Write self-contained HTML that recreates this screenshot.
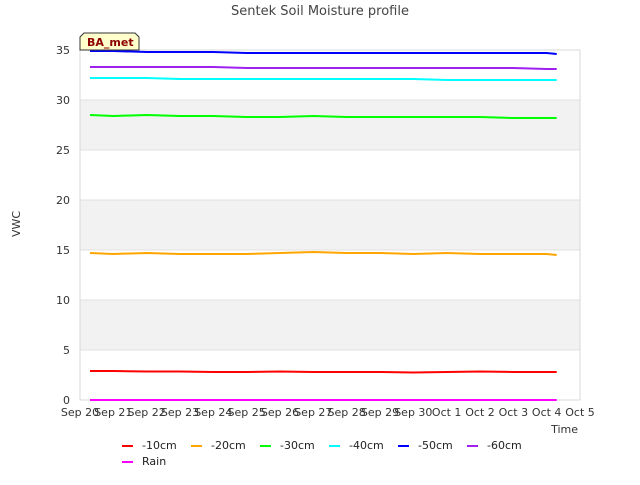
<!DOCTYPE html>
<html><head><meta charset="utf-8"><style>
body{margin:0;background:#fff;font-family:"Liberation Sans","DejaVu Sans",sans-serif;}
svg text{font-family:"DejaVu Sans","Liberation Sans",sans-serif;}
</style></head><body>
<svg id="chart" width="640" height="480" xmlns="http://www.w3.org/2000/svg"></svg>
<script>
const xTicks=["Sep 20","Sep 21","Sep 22","Sep 23","Sep 24","Sep 25","Sep 26","Sep 27","Sep 28","Sep 29","Sep 30","Oct 1","Oct 2","Oct 3","Oct 4","Oct 5"];
const yTicks=[0,5,10,15,20,25,30,35];
const days=[0.3,1,2,3,4,5,6,7,8,9,10,11,12,13,14,14.3];
const s10=[2.9,2.9,2.85,2.85,2.8,2.8,2.85,2.8,2.8,2.8,2.75,2.8,2.85,2.8,2.8,2.8];
const s20=[14.7,14.6,14.7,14.6,14.6,14.6,14.7,14.8,14.7,14.7,14.6,14.7,14.6,14.6,14.6,14.5];
const s30=[28.5,28.4,28.5,28.4,28.4,28.3,28.3,28.4,28.3,28.3,28.3,28.3,28.3,28.2,28.2,28.2];
const s40=[32.2,32.2,32.2,32.1,32.1,32.1,32.1,32.1,32.1,32.1,32.1,32.0,32.0,32.0,32.0,32.0];
const s50=[34.9,34.9,34.8,34.8,34.8,34.7,34.7,34.7,34.7,34.7,34.7,34.7,34.7,34.7,34.7,34.6];
const s60=[33.3,33.3,33.3,33.3,33.3,33.2,33.2,33.2,33.2,33.2,33.2,33.2,33.2,33.2,33.1,33.1];
const rain=[0,0,0,0,0,0,0,0,0,0,0,0,0,0,0,0];
const seriesNames=["-10cm","-20cm","-30cm","-40cm","-50cm","-60cm","Rain"];
const seriesColors=["#ff0000","#ffa500","#00ff00","#00ffff","#0000ff","#a020f0","#ff00ff"];
const seriesData=[s10,s20,s30,s40,s50,s60,rain];
const NS="http://www.w3.org/2000/svg";
const svg=document.getElementById('chart');
const L=80,R=580,T=50,B=400;
const xs=d=>L+(R-L)*d/15;
const ys=v=>B-(B-T)*v/35;
function mk(t,a,p){const e=document.createElementNS(NS,t);for(const k in a)e.setAttribute(k,a[k]);(p||svg).appendChild(e);return e;}
// bands
[[5,10],[15,20],[25,30]].forEach(b=>{const r=mk('rect',{x:L,y:ys(b[1]),width:R-L,height:ys(b[0])-ys(b[1]),fill:'#f2f2f2'});
});
yTicks.forEach(v=>{const l=mk('line',{x1:L,x2:R,y1:ys(v),y2:ys(v),stroke:'#e0e0e0','stroke-width':1});

const t=mk('text',{x:L-10,y:ys(v)+4,'text-anchor':'end','font-size':11,fill:'#333'});t.textContent=v;
});
const fr=mk('rect',{x:L,y:T,width:R-L,height:B-T,fill:'none',stroke:'#d8d8d8'});

xTicks.forEach((s,i)=>{const t=mk('text',{x:xs(i),y:B+16,'text-anchor':'middle','font-size':11,fill:'#333'});t.textContent=s;
});
seriesData.forEach((arr,si)=>{const pts=arr.map((v,i)=>xs(days[i]).toFixed(1)+','+ys(v).toFixed(1)).join(' ');
const p=mk('polyline',{points:pts,fill:'none',stroke:seriesColors[si],'stroke-width':2});
});
let t=mk('text',{x:320,y:15,'text-anchor':'middle','font-size':13,fill:'#444'});t.textContent='Sentek Soil Moisture profile';

t=mk('text',{x:20,y:224,'text-anchor':'middle','font-size':11,fill:'#333',transform:'rotate(-90 20 224)'});t.textContent='VWC';

t=mk('text',{x:578,y:433,'text-anchor':'end','font-size':11,fill:'#333'});t.textContent='Time';

// BA_met box
const g=mk('g',{});
mk('path',{d:'M84,33 L135,33 L139,37 L139,50 L80,50 L80,37 Z',fill:'#ffffcc',stroke:'#333','stroke-width':1},g);
t=mk('text',{x:87,y:46,'font-size':11,'font-weight':'bold',fill:'#8b0000'},g);t.textContent='BA_met';
seriesNames.forEach((n,i)=>{const col=i%6,row=Math.floor(i/6);const x=122+col*69,y=445+row*16;
const eg=mk('g',{});
mk('line',{x1:x,x2:x+11,y1:y+1,y2:y+1,stroke:seriesColors[i],'stroke-width':2},eg);
const tt=mk('text',{x:x+20,y:y+4,'font-size':11,fill:'#222'},eg);tt.textContent=n;});
</script>
</body></html>
